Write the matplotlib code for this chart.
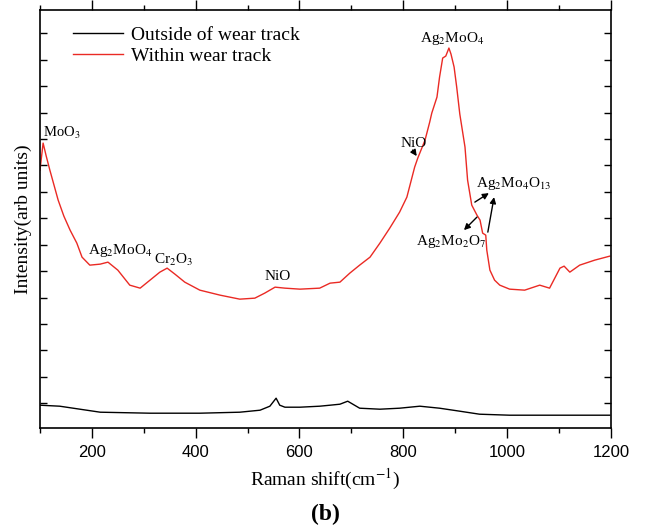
import numpy as np
import matplotlib
matplotlib.use("Agg")
import matplotlib.pyplot as plt
from matplotlib.ticker import MultipleLocator

plt.rcParams['font.family'] = 'Liberation Serif'
plt.rcParams['mathtext.fontset'] = 'stix'

# spectra (Raman shift in cm-1, intensity in arb. units)
within_shift = [100, 106, 112, 119, 127, 135, 146, 158, 171, 181, 196, 216, 231, 250,
                273, 293, 312, 331, 345, 360, 379, 408, 447, 485, 514, 533, 553, 572,
                601, 639, 659, 678, 697, 716, 736, 755, 774, 793, 807, 822, 828, 842,
                851, 855, 865, 870, 876, 882, 888, 892, 898, 903, 909, 919, 924, 932,
                942, 948, 953, 959, 961, 967, 976, 986, 1005, 1034, 1063, 1082, 1102,
                1110, 1121, 1140, 1169, 1198]
within_int = [258, 285, 272, 258, 243, 228, 212, 198, 185, 171, 163, 164, 166, 158,
              143, 140, 148, 156, 160, 154, 146, 138, 133, 129, 130, 135, 141, 140,
              139, 140, 145, 146, 155, 163, 171, 185, 200, 216, 231, 261, 270, 288,
              306, 315, 331, 351, 370, 372, 380, 374, 361, 341, 314, 281, 248, 223,
              213, 208, 195, 193, 178, 158, 148, 143, 139, 138, 143, 140, 160,
              162, 156, 163, 168, 172]

outside_shift = [100, 138, 177, 216, 312, 408, 485, 524, 543, 555, 562, 572, 601, 639,
                 659, 678, 693, 716, 755, 793, 832, 870, 909, 947, 1005, 1082, 1198]
outside_int = [23, 22, 19, 16, 15, 15, 16, 18, 22, 30, 23, 21, 21, 22,
               23, 24, 27, 20, 19, 20, 22, 20, 17, 14, 13, 13, 13]

xticks = [200, 400, 600, 800, 1000, 1200]

fig = plt.figure(figsize=(6.45, 5.28), dpi=100)
ax = fig.add_axes([0.062, 0.189, 0.885, 0.792])

ax.plot(outside_shift, outside_int, color='black', lw=1.0, label='Outside of wear track')
ax.plot(within_shift, within_int, color='#ea2a24', lw=1.0, label='Within wear track')

ax.set_xlim(100, 1200)
ax.set_ylim(0, 418)
ax.set_xticks(xticks)
ax.xaxis.set_minor_locator(MultipleLocator(100))
ax.set_yticks(np.arange(25, 418, 26.4))
ax.set_yticklabels([])
ax.tick_params(axis='x', which='major', direction='out', length=7, width=1,
               labelsize=12, labelfontfamily='Liberation Sans', pad=5)
ax.tick_params(axis='x', which='minor', direction='out', length=3.5, width=1)
ax.tick_params(axis='y', which='major', direction='in', length=5, width=1, left=True, right=True)
ax.tick_params(axis='x', which='both', top=True, labeltop=False)
for s in ax.spines.values():
    s.set_linewidth(1.2)

ax.set_xlabel('Raman shift(cm$^{-1}$)', fontsize=14, labelpad=5)
ax.set_ylabel('Intensity(arb units)', fontsize=14, labelpad=2)
fig.text(0.504, 0.015, '(b)', fontsize=17, fontweight='bold', ha='center')

ax.legend(frameon=False, loc='upper left', bbox_to_anchor=(0.04, 0.985), fontsize=14,
          handlelength=2.6, handletextpad=0.4, borderpad=0, labelspacing=0.2)

# peak labels
fs = 11
ax.text(106, 295, 'MoO$_3$', fontsize=10.5, ha='left', va='center')
ax.text(894, 390, 'Ag$_2$MoO$_4$', fontsize=fs, ha='center', va='center')
ax.text(820, 285, 'NiO', fontsize=fs, ha='center', va='center')
ax.text(940, 245, 'Ag$_2$Mo$_4$O$_{13}$', fontsize=fs, ha='left', va='center')
ax.text(824, 187, 'Ag$_2$Mo$_2$O$_7$', fontsize=fs, ha='left', va='center')
ax.text(254, 178, 'Ag$_2$MoO$_4$', fontsize=fs, ha='center', va='center')
ax.text(358, 168, 'Cr$_2$O$_3$', fontsize=fs, ha='center', va='center')
ax.text(558, 152, 'NiO', fontsize=fs, ha='center', va='center')

arrow = dict(arrowstyle='-|>', color='black', lw=1.0, mutation_scale=9, shrinkA=0, shrinkB=0)
ax.annotate('', xy=(826, 272), xytext=(818, 278), arrowprops=arrow)
ax.annotate('', xy=(965, 235), xytext=(938, 226), arrowprops=arrow)
ax.annotate('', xy=(975, 231), xytext=(963, 196), arrowprops=arrow)
ax.annotate('', xy=(917, 198), xytext=(942, 211), arrowprops=arrow)

fig.savefig('out.png', dpi=100)
